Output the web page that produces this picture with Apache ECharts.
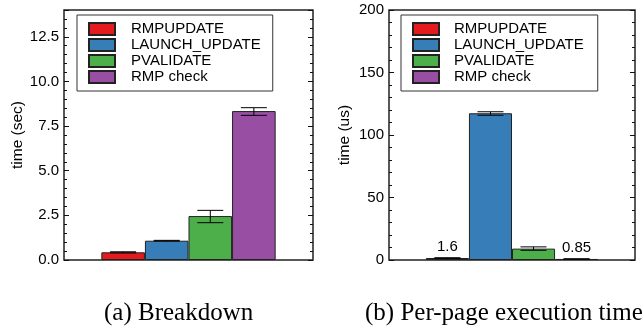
<!DOCTYPE html>
<html>
<head>
<meta charset="utf-8">
<script src="https://cdn.jsdelivr.net/npm/echarts@6/dist/echarts.min.js"></script>
<style>
  html, body { margin: 0; padding: 0; background: #fff; }
  #chart { width: 644px; height: 330px; }
</style>
</head>
<body>
<div id="chart"></div>
<script>
// series names, shared by both panels
let names = ['RMPUPDATE', 'LAUNCH_UPDATE', 'PVALIDATE', 'RMP check'];
let colors = ['#e41a1c', '#377eb8', '#4daf4a', '#984ea3'];

// (a) Breakdown, seconds
let secVals = [0.43, 1.08, 2.46, 8.34];
let secLow  = [0.40, 1.06, 2.09, 8.10];
let secHigh = [0.46, 1.10, 2.78, 8.53];

// (b) Per-page execution time, microseconds
let usVals = [1.6, 117.4, 9.1, 0.85];
let usLow  = [1.4, 115.8, 7.8, 0.75];
let usHigh = [1.8, 118.6, 10.5, 0.95];
let usLabels = [true, false, false, true];

let captions = ['(a) Breakdown', '(b) Per-page execution time'];

let font = 'Liberation Sans, Arial, sans-serif';
let ink = '#111';

function yAxes(gi, max, interval, name, gap, fmt) {
  let base = {
    gridIndex: gi, type: 'value', min: 0, max: max, interval: interval,
    splitLine: { show: false },
    axisLine: { show: false },
    axisTick: { show: true, inside: true, length: 5, lineStyle: { color: ink } },
    minorTick: { show: true, splitNumber: 5, length: 3, lineStyle: { color: ink } }
  };
  return [
    Object.assign({}, base, {
      position: 'left',
      name: name, nameLocation: 'middle', nameGap: gap,
      nameTextStyle: { fontFamily: font, fontSize: 15.5, color: '#000' },
      axisLabel: { fontFamily: font, fontSize: 15, color: '#000', margin: 5,
                   formatter: fmt, showMaxLabel: max % interval === 0 }
    }),
    Object.assign({}, base, { position: 'right', axisLabel: { show: false } })
  ];
}

function barSeries(gi, vals, showLab) {
  return names.map(function (n, i) {
    return {
      name: n, type: 'bar', xAxisIndex: gi, yAxisIndex: gi * 2,
      barGap: '0%', barCategoryGap: '30%',
      itemStyle: { color: colors[i], borderColor: '#222', borderWidth: 1 },
      label: {
        show: showLab ? showLab[i] : false, position: 'top', distance: 4,
        fontFamily: font, fontSize: 15, color: '#000'
      },
      data: [vals[i]]
    };
  });
}

function errSeries(gi, lows, highs) {
  return {
    type: 'custom', xAxisIndex: gi, yAxisIndex: gi * 2, z: 10,
    data: lows.map(function (l, i) { return [0, l, highs[i], i]; }),
    encode: { x: 0, y: [1, 2] },
    renderItem: function (params, api) {
      let i = api.value(3);
      let lo = api.coord([0, api.value(1)]);
      let hi = api.coord([0, api.value(2)]);
      let band = api.size([1, 0])[0];
      let bw = band * 0.7 / 4;
      let x = lo[0] - band * 0.35 + (i + 0.5) * bw;
      let c = 13;
      let st = { stroke: '#000', lineWidth: 1 };
      return {
        type: 'group',
        children: [
          { type: 'line', shape: { x1: x, y1: lo[1], x2: x, y2: hi[1] }, style: st },
          { type: 'line', shape: { x1: x - c, y1: hi[1], x2: x + c, y2: hi[1] }, style: st },
          { type: 'line', shape: { x1: x - c, y1: lo[1], x2: x + c, y2: lo[1] }, style: st }
        ]
      };
    }
  };
}

function legendAt(left, pad, textPad) {
  return {
    orient: 'vertical', left: left, top: 15,
    data: names, icon: 'rect', itemWidth: 26, itemHeight: 12, itemGap: 0,
    padding: pad,
    borderColor: '#333', borderWidth: 1, borderRadius: 0,
    backgroundColor: '#fff',
    textStyle: { fontFamily: font, fontSize: 15, lineHeight: 16, color: '#000',
                 padding: [0, 0, 0, textPad] }
  };
}

let chart = echarts.init(document.getElementById('chart'), null, { renderer: 'canvas' });

chart.setOption({
  animation: false,
  title: captions.map(function (t, i) {
    return {
      text: t, left: i === 0 ? 104 : 365, top: 301, padding: 0,
      textStyle: { fontFamily: 'Liberation Serif, Times New Roman, serif',
                   fontSize: 25, fontWeight: 'normal', color: '#000' }
    };
  }),
  legend: [legendAt(77, [6, 12, 6, 11], 11), legendAt(401, [6, 14, 6, 11], 10)],
  grid: [
    { left: 64, top: 10, width: 249, height: 250, show: true,
      borderColor: '#222', borderWidth: 1.5, backgroundColor: 'transparent' },
    { left: 389, top: 10, width: 246, height: 250, show: true,
      borderColor: '#222', borderWidth: 1.5, backgroundColor: 'transparent' }
  ],
  xAxis: [0, 1].map(function (gi) {
    return {
      gridIndex: gi, type: 'category', data: [''],
      axisLine: { show: false }, axisTick: { show: false }, axisLabel: { show: false }
    };
  }),
  yAxis: []
    .concat(yAxes(0, 14, 2.5, 'time (sec)', 32, function (v) { return v.toFixed(1); }))
    .concat(yAxes(1, 200, 50, 'time (us)', 36, function (v) { return String(v); })),
  series: []
    .concat(barSeries(0, secVals))
    .concat([errSeries(0, secLow, secHigh)])
    .concat(barSeries(1, usVals, usLabels))
    .concat([errSeries(1, usLow, usHigh)])
});
</script>
</body>
</html>
